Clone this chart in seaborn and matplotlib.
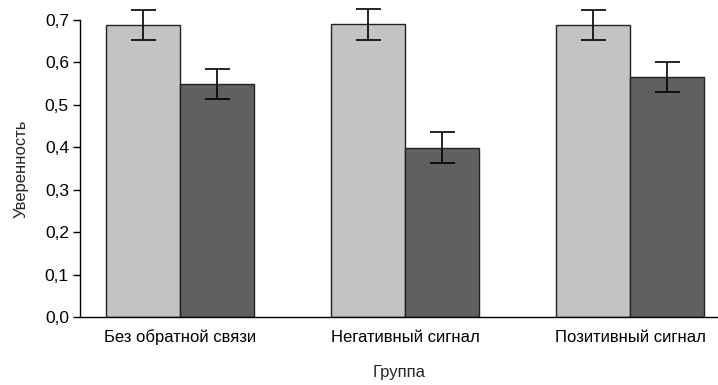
import matplotlib
matplotlib.use("Agg")
import matplotlib.pyplot as plt
import seaborn as sns
import pandas as pd

groups = ["Без обратной связи", "Негативный сигнал", "Позитивный сигнал"]
conditions = ["A", "B"]
values_a = [0.689, 0.690, 0.689]
values_b = [0.549, 0.399, 0.566]
err_a = [0.035, 0.036, 0.035]
err_b = [0.035, 0.036, 0.035]
yticks = [0.0, 0.1, 0.2, 0.3, 0.4, 0.5, 0.6, 0.7]
ytick_labels = ["0,0", "0,1", "0,2", "0,3", "0,4", "0,5", "0,6", "0,7"]

df = pd.DataFrame({
    "group": groups * 2,
    "cond": [conditions[0]] * 3 + [conditions[1]] * 3,
    "value": values_a + values_b,
    "err": err_a + err_b,
})

sns.set_theme(style="ticks")
plt.rcParams["font.family"] = ["Liberation Sans", "DejaVu Sans"]

fig = plt.figure(figsize=(7.18, 3.85), dpi=100)
ax = fig.add_axes([80 / 718, 1 - 317 / 385, 1 - 80 / 718, (317 - 20) / 385])

sns.barplot(data=df, x="group", y="value", hue="cond", order=groups,
            hue_order=conditions, palette=["#c3c3c3", "#606060"],
            errorbar=None, width=0.66, edgecolor="#222222", linewidth=1.0,
            legend=False, ax=ax)

# error bars at bar centres
for cont, cond in zip(ax.containers, conditions):
    sub = df[df["cond"] == cond].set_index("group").loc[groups]
    xs = [p.get_x() + p.get_width() / 2 for p in cont.patches]
    eb = ax.errorbar(xs, sub["value"], yerr=sub["err"], fmt="none", ecolor="black",
                     elinewidth=1.2, capsize=9, capthick=1.2, zorder=5)
    for art in eb.lines[1] + eb.lines[2]:
        art.set_clip_on(False)
    for art in eb.lines[2]:
        art.set_clip_on(False)

ax.set_ylim(0, 0.7)
ax.set_xlim(-0.444, 2.391)
ax.set_yticks(yticks)
ax.set_yticklabels(ytick_labels, fontsize=12.5)
ax.tick_params(axis="x", length=0, labelsize=12, pad=9, colors="black")
ax.tick_params(axis="y", length=5, width=1, colors="black", pad=3)
ax.set_xlabel("Группа", fontsize=12, labelpad=14)
ax.set_ylabel("Уверенность", fontsize=12, labelpad=12)
for s in ["top", "right"]:
    ax.spines[s].set_visible(False)
for s in ["left", "bottom"]:
    ax.spines[s].set_color("black")
    ax.spines[s].set_linewidth(1.0)

fig.savefig("out.png", dpi=100)
